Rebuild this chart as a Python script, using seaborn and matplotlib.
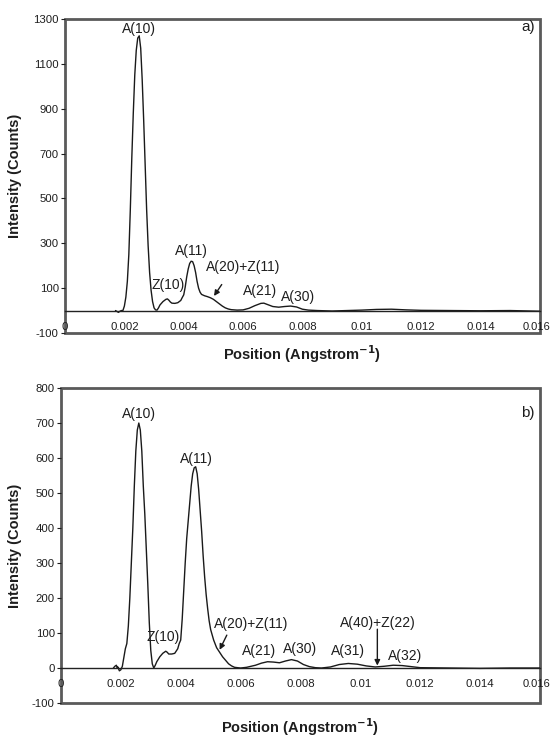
import matplotlib
matplotlib.use("Agg")
import matplotlib.pyplot as plt
import seaborn as sns

sns.set_theme(style="white")
plt.rcParams["font.family"] = ["Liberation Sans", "DejaVu Sans"]
plt.rcParams["text.color"] = "#1e1e1e"
plt.rcParams["axes.labelcolor"] = "#1e1e1e"
plt.rcParams["xtick.color"] = "#1e1e1e"
plt.rcParams["ytick.color"] = "#1e1e1e"
plt.rcParams["axes.unicode_minus"] = False

# panel a) scattering profile
pos_a = [0.00170, 0.00180, 0.00185, 0.00190, 0.00195, 0.00200, 0.00205, 0.00210,
         0.00215, 0.00220, 0.00225, 0.00230, 0.00235, 0.00240, 0.00245, 0.00250,
         0.00255, 0.00260, 0.00265, 0.00270, 0.00275, 0.00280, 0.00285, 0.00290,
         0.00295, 0.00300, 0.00305, 0.00310, 0.00315, 0.00320, 0.00330, 0.00340,
         0.00345, 0.00350, 0.00355, 0.00360, 0.00370, 0.00380, 0.00390, 0.00395,
         0.00400, 0.00405, 0.00410, 0.00415, 0.00420, 0.00425, 0.00430, 0.00435,
         0.00440, 0.00445, 0.00450, 0.00455, 0.00460, 0.00470, 0.00480, 0.00490,
         0.00500, 0.00510, 0.00520, 0.00530, 0.00540, 0.00550, 0.00560, 0.00580,
         0.00600, 0.00620, 0.00640, 0.00660, 0.00670, 0.00680, 0.00700, 0.00720,
         0.00740, 0.00760, 0.00780, 0.00800, 0.00820, 0.00850, 0.00900, 0.00950,
         0.01000, 0.01050, 0.01100, 0.01150, 0.01200, 0.01300, 0.01400, 0.01500,
         0.01600]
int_a = [0, -8, -3, 0, 0, 20, 60, 130,
         250, 450, 680, 880, 1050, 1160, 1215, 1225,
         1170, 1030, 850, 650, 450, 290, 170, 90,
         40, 12, 3, 2, 12, 25, 40, 50,
         52, 46, 38, 33, 32, 35, 45, 58,
         70, 105, 150, 185, 210, 220, 218, 200,
         170, 130, 100, 82, 72, 66, 62, 57,
         50, 40, 30, 20, 12, 7, 4, 2,
         3, 10, 22, 32, 33, 28, 18, 15,
         18, 20, 16, 6, 2, 0, -2, 0,
         2, 5, 6, 3, 1, 0, -1, 0,
         -3]

# panel b) scattering profile
pos_b = [0.00175, 0.00180, 0.00185, 0.00188, 0.00190, 0.00195, 0.00200, 0.00205,
         0.00210, 0.00215, 0.00220, 0.00225, 0.00230, 0.00235, 0.00240, 0.00245,
         0.00250, 0.00255, 0.00260, 0.00265, 0.00270, 0.00275, 0.00280, 0.00285,
         0.00290, 0.00295, 0.00300, 0.00305, 0.00310, 0.00315, 0.00320, 0.00330,
         0.00340, 0.00350, 0.00355, 0.00360, 0.00370, 0.00380, 0.00390, 0.00395,
         0.00400, 0.00405, 0.00410, 0.00415, 0.00420, 0.00425, 0.00430, 0.00435,
         0.00440, 0.00445, 0.00450, 0.00455, 0.00460, 0.00465, 0.00470, 0.00475,
         0.00480, 0.00485, 0.00490, 0.00495, 0.00500, 0.00505, 0.00510, 0.00520,
         0.00530, 0.00540, 0.00550, 0.00560, 0.00570, 0.00580, 0.00600, 0.00620,
         0.00650, 0.00670, 0.00690, 0.00710, 0.00730, 0.00750, 0.00770, 0.00790,
         0.00810, 0.00830, 0.00850, 0.00870, 0.00900, 0.00930, 0.00960, 0.00990,
         0.01020, 0.01050, 0.01080, 0.01110, 0.01140, 0.01170, 0.01200, 0.01300,
         0.01400, 0.01500, 0.01600]
int_b = [0, 5, 8, 0, 3, -8, -5, 5,
         30, 55, 70, 120, 200, 300, 400, 520,
         620, 680, 700, 680, 620, 520, 440, 340,
         240, 130, 50, 12, 0, 8, 18, 32,
         42, 48, 45, 40, 40, 42, 55, 70,
         80, 140, 220, 300, 370, 420, 470, 520,
         555, 572, 575, 555, 510, 450, 390, 320,
         260, 210, 170, 135, 110, 95, 80, 58,
         45, 32, 22, 12, 6, 2, 0, 2,
         8, 14, 18, 17, 15, 20, 24, 20,
         10, 4, 1, 0, 3, 10, 13, 11,
         6, 3, 5, 8, 7, 4, 1, 0,
         -1, 0, 0]

x_ticks = [0, 0.002, 0.004, 0.006, 0.008, 0.01, 0.012, 0.014, 0.016]
x_tick_labels = ["0", "0.002", "0.004", "0.006", "0.008", "0.01", "0.012", "0.014", "0.016"]
y_ticks_a = [-100, 100, 300, 500, 700, 900, 1100, 1300]
y_ticks_b = [-100, 0, 100, 200, 300, 400, 500, 600, 700, 800]

labels_a = [("A(10)", 0.0025, 1257), ("Z(10)", 0.00347, 116), ("A(11)", 0.00427, 264),
            ("A(20)+Z(11)", 0.0060, 192), ("A(21)", 0.00657, 85), ("A(30)", 0.00784, 62)]
labels_b = [("A(10)", 0.00262, 726), ("A(11)", 0.00454, 597), ("Z(10)", 0.00342, 88),
            ("A(20)+Z(11)", 0.00637, 126), ("A(21)", 0.00662, 49), ("A(30)", 0.00799, 54),
            ("A(31)", 0.0096, 49), ("A(40)+Z(22)", 0.0106, 128), ("A(32)", 0.0115, 35)]
arrows_a = [((0.00502, 65), (0.00528, 116))]
arrows_b = [((0.0053, 52), (0.00554, 94)), ((0.01057, 7), (0.01057, 111))]

fig = plt.figure(figsize=(5.52, 7.37), dpi=100)
ax_a = fig.add_axes([0.1178, 0.5482, 0.8602, 0.426])
ax_b = fig.add_axes([0.1105, 0.0461, 0.8675, 0.4274])


def draw_panel(ax, pos, inten, y_ticks, ylim, labels, arrows, tag, tag_y, ylab_x, xlab_y):
    sns.lineplot(x=pos, y=inten, ax=ax, color="#1a1a1a", linewidth=1.0,
                 sort=False, estimator=None)
    ax.set_xlim(0, 0.016)
    ax.set_ylim(*ylim)
    ax.set_xticks(x_ticks)
    # the last label sits on the frame edge; it is drawn separately a bit to the left
    ax.set_xticklabels(x_tick_labels[:-1] + [""])
    ax.set_yticks(y_ticks)
    ax.tick_params(axis="both", labelsize=8.2, direction="out", length=3, width=0.8,
                   pad=1.5, colors="#1e1e1e")
    ax.tick_params(axis="x", pad=5)
    ax.annotate(x_tick_labels[-1], xy=(x_ticks[-1], 0), xytext=(-2.5, -8.2),
                textcoords="offset points", ha="center", va="top", fontsize=8,
                annotation_clip=False)

    # Excel-like: category axis crosses at zero, grey frame around the plot area
    for side in ["top", "right", "left"]:
        ax.spines[side].set_visible(False)
    ax.spines["bottom"].set_position(("data", 0))
    ax.spines["bottom"].set_color("#222222")
    ax.spines["bottom"].set_linewidth(1.0)
    ax.patch.set_edgecolor("#5a5a5a")
    ax.patch.set_linewidth(2.0)
    ax.yaxis.set_ticks_position("left")

    for txt, x, y in labels:
        ax.text(x, y, txt, ha="center", va="center", fontsize=10)
    for tip, start in arrows:
        ax.annotate("", xy=tip, xytext=start,
                    arrowprops=dict(arrowstyle="-|>", color="#1a1a1a", lw=1.0,
                                    mutation_scale=8, shrinkA=0, shrinkB=0))
    ax.text(0.0156, tag_y, tag, ha="center", va="center", fontsize=11)

    ax.set_ylabel("Intensity (Counts)", fontsize=10.5, fontweight="bold")
    ax.yaxis.set_label_coords(ylab_x, 0.5)
    ax.text(0.5, xlab_y, r"Position (Angstrom$^{\mathbf{-1}}$)", transform=ax.transAxes,
            ha="center", va="center", fontsize=10.5, fontweight="bold")


draw_panel(ax_a, pos_a, int_a, y_ticks_a, (-100, 1300), labels_a, arrows_a,
           "a)", 1265, -0.0905, -0.067)
draw_panel(ax_b, pos_b, int_b, y_ticks_b, (-100, 800), labels_b, arrows_b,
           "b)", 730, -0.081, -0.076)

fig.savefig("out.png", dpi=100)
